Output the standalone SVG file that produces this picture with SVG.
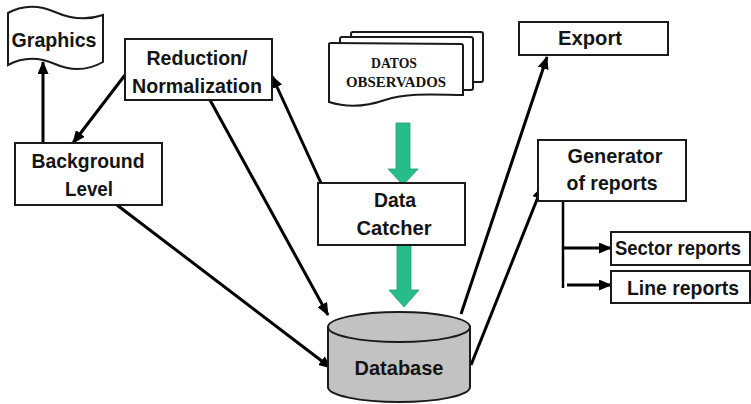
<svg xmlns="http://www.w3.org/2000/svg" width="751" height="404" viewBox="0 0 751 404">
  <defs>
    <style>
      .box { fill: #ffffff; stroke: #1a1a1a; stroke-width: 2; }
      .lbl { font-family: "Liberation Sans", Arial, sans-serif; font-weight: bold; font-size: 21px; fill: #141414; text-anchor: middle; }
      .doc { font-family: "Liberation Serif", "Times New Roman", serif; font-weight: bold; font-size: 14px; fill: #141414; text-anchor: middle; }
      .edge { fill: none; stroke: #000000; stroke-width: 3; marker-end: url(#head); }
      .plain { fill: none; stroke: #000000; stroke-width: 2.5; }
      .flow { fill: #27bd8b; stroke: #1e9e72; stroke-width: 0.8; }
    </style>
    <marker id="head" markerUnits="userSpaceOnUse" markerWidth="13" markerHeight="11" refX="12" refY="5.5" orient="auto">
      <path d="M0,0 L13,5.5 L0,11 z" fill="#000000"/>
    </marker>
  </defs>
  <rect width="751" height="404" fill="#ffffff"/>

  <!-- connectors -->
  <g id="connectors">
    <path class="edge" d="M43,143 L43,62"/>
    <path class="edge" d="M125,75 L73,143"/>
    <path class="edge" d="M210,100 L328,315"/>
    <path class="edge" d="M117,205 L331,368"/>
    <path class="edge" d="M321,183 L272,76"/>
    <path class="edge" d="M461,314 L547,57"/>
    <path class="edge" d="M471,365 L542,187"/>
    <path class="plain" d="M563,201 L563,288"/>
    <path class="edge" d="M563,248 L611,248"/>
    <path class="edge" d="M567,285 L611,285"/>
    <!-- flow arrows -->
    <path class="flow" d="M396,123 L410,123 L410,169 L418,169 L403,185 L388,169 L396,169 z"/>
    <path class="flow" d="M397,245 L411,245 L411,290 L419,290 L404,307 L389,290 L397,290 z"/>
  </g>

  <g id="graphics">
    <path class="box" d="M8,13 Q30,1 55,12 T103,15 L103,62 Q80,75 55,64 Q30,53 8,65 z"/>
    <text class="lbl" x="54" y="47" textLength="85" lengthAdjust="spacingAndGlyphs">Graphics</text>
  </g>

  <g id="reduction">
    <rect class="box" x="125" y="39" width="147" height="61"/>
    <text class="lbl" x="197" y="65" textLength="101" lengthAdjust="spacingAndGlyphs">Reduction/</text>
    <text class="lbl" x="197" y="93" textLength="130" lengthAdjust="spacingAndGlyphs">Normalization</text>
  </g>

  <g id="background">
    <rect class="box" x="15" y="143" width="147" height="62"/>
    <text class="lbl" x="88" y="168" textLength="113" lengthAdjust="spacingAndGlyphs">Background</text>
    <text class="lbl" x="89" y="196" textLength="48" lengthAdjust="spacingAndGlyphs">Level</text>
  </g>

  <g id="datos">
    <rect class="box" x="351" y="32" width="132" height="50" rx="2"/>
    <rect class="box" x="340" y="37" width="133" height="53" rx="2"/>
    <path class="box" d="M329,44 Q329,43 331,43 L461,44 Q463,44 463,46 L463,95 C440,95 410,92 385,100 C365,107 345,107 329,102 z"/>
    <text class="doc" x="394" y="68" textLength="46" lengthAdjust="spacingAndGlyphs">DATOS</text>
    <text class="doc" x="396" y="87" textLength="100" lengthAdjust="spacingAndGlyphs">OBSERVADOS</text>
  </g>

  <g id="catcher">
    <rect class="box" x="318" y="183" width="147" height="62"/>
    <text class="lbl" x="395" y="207" textLength="42" lengthAdjust="spacingAndGlyphs">Data</text>
    <text class="lbl" x="394" y="235" textLength="75" lengthAdjust="spacingAndGlyphs">Catcher</text>
  </g>

  <g id="database">
    <path d="M328,327 L328,387 A71,15 0 0 0 470,387 L470,327 z" fill="#c2c2c2" stroke="#1a1a1a" stroke-width="2"/>
    <ellipse cx="399" cy="327" rx="71" ry="15" fill="#c2c2c2" stroke="#1a1a1a" stroke-width="2"/>
    <text class="lbl" x="399" y="375" textLength="89" lengthAdjust="spacingAndGlyphs">Database</text>
  </g>

  <g id="export">
    <rect class="box" x="519" y="22" width="149" height="33"/>
    <text class="lbl" x="590" y="45" textLength="64" lengthAdjust="spacingAndGlyphs">Export</text>
  </g>

  <g id="generator">
    <rect class="box" x="538" y="140" width="148" height="61"/>
    <text class="lbl" x="615" y="163" textLength="95" lengthAdjust="spacingAndGlyphs">Generator</text>
    <text class="lbl" x="612" y="190" textLength="91" lengthAdjust="spacingAndGlyphs">of reports</text>
  </g>

  <g id="sector">
    <rect class="box" x="611" y="232" width="139" height="33"/>
    <text class="lbl" x="678" y="255" font-size="19" textLength="126" lengthAdjust="spacingAndGlyphs">Sector reports</text>
  </g>

  <g id="line">
    <rect class="box" x="611" y="271" width="139" height="32"/>
    <text class="lbl" x="683" y="295" textLength="112" lengthAdjust="spacingAndGlyphs">Line reports</text>
  </g>
</svg>
